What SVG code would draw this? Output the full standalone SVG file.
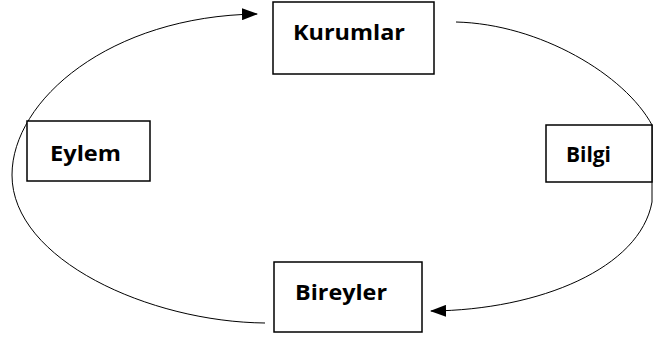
<svg xmlns="http://www.w3.org/2000/svg" width="654" height="338" viewBox="0 0 654 338">
<style>
.box{fill:#fff;stroke:#000;stroke-width:1.5}
.lbl{font-family:"Open Sans","Liberation Sans",sans-serif;font-weight:bold;font-size:21px;fill:#000}
.con{fill:none;stroke:#000;stroke-width:1}
</style>
<defs>
<marker id="ah" markerWidth="16" markerHeight="12" refX="15" refY="6" orient="auto" markerUnits="userSpaceOnUse">
<path d="M0,0 L16,6 L0,12 Z" fill="#000"/>
</marker>
</defs>
<rect width="654" height="338" fill="#fff"/>
<g id="connectors">
<path class="con" d="M265,323 C150,322 12,260 12,175 C12,100 110,16 257,14" marker-end="url(#ah)"/>
<path class="con" d="M456,22 C540,24 625,75 652,125 L652,202 C640,268 540,310 431,311" marker-end="url(#ah)"/>
</g>
<g id="kurumlar">
<rect class="box" x="273" y="2" width="161" height="72"/>
<text class="lbl" x="293" y="40" textLength="112" lengthAdjust="spacingAndGlyphs">Kurumlar</text>
</g>
<g id="eylem">
<rect class="box" x="27" y="121" width="123" height="60"/>
<text class="lbl" x="50" y="161" textLength="71" lengthAdjust="spacingAndGlyphs">Eylem</text>
</g>
<g id="bilgi">
<rect class="box" x="546" y="125" width="106" height="57"/>
<text class="lbl" x="566" y="162" textLength="45" lengthAdjust="spacingAndGlyphs">Bilgi</text>
</g>
<g id="bireyler">
<rect class="box" x="274" y="262" width="148" height="70"/>
<text class="lbl" x="295" y="300" textLength="92" lengthAdjust="spacingAndGlyphs">Bireyler</text>
</g>
</svg>
